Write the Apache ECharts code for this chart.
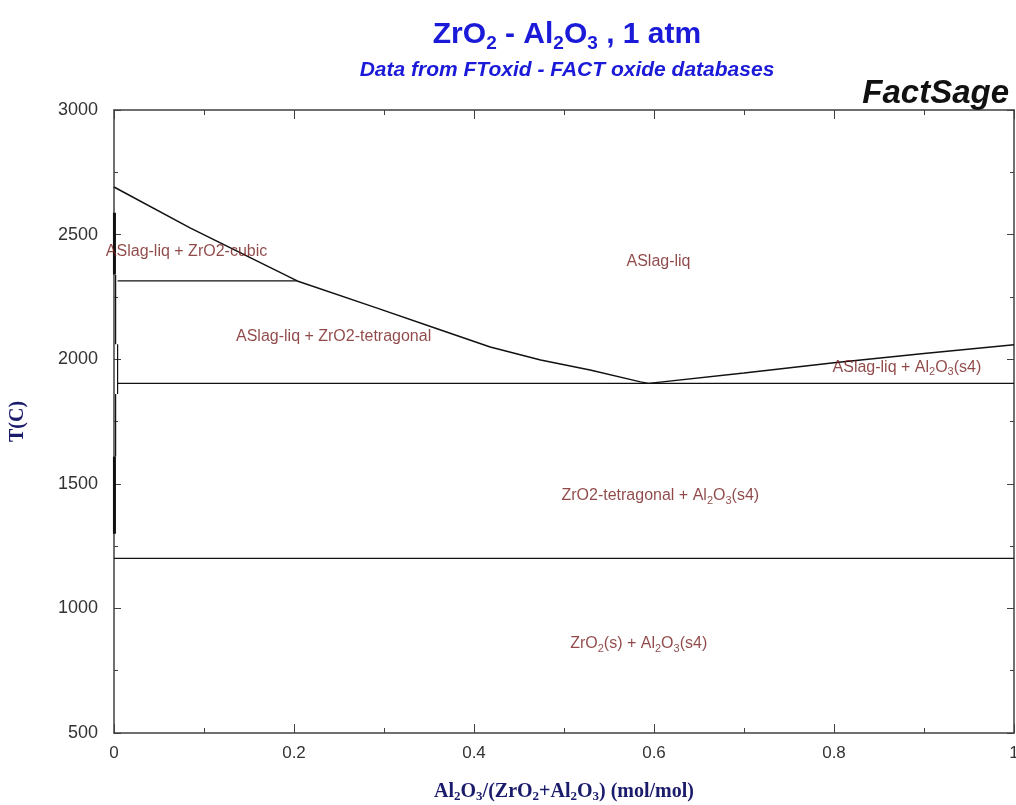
<!DOCTYPE html>
<html>
<head>
<meta charset="utf-8">
<script src="https://cdn.jsdelivr.net/npm/echarts@6/dist/echarts.min.js"></script>
<style>
  html, body { margin: 0; padding: 0; background: #fff; }
  #chart { width: 1016px; height: 805px; }
</style>
</head>
<body>
<div id="chart"></div>
<script>
// phase boundaries, [x Al2O3 mol fraction, T in C]
const liquidusZrO2 = [[0, 2691], [0.085, 2526], [0.2036, 2314], [0.2924, 2205], [0.363, 2117],
  [0.418, 2049], [0.474, 1997], [0.529, 1957], [0.585, 1909], [0.594, 1903]]
const liquidusAl2O3 = [[0.594, 1903], [0.7, 1945], [0.8, 1986], [0.9, 2023], [1, 2058]]
const cubicTetragonal = [[0.004, 2314], [0.2036, 2314]]
const eutectic = [[0.004, 1903], [1, 1903]]
const tetragonalMonoclinic = [[0, 1201], [1, 1201]]
const ssCubic = [[0.0005, 2588], [0.0005, 2340]]
const ssTetragonalA = [[0.0018, 2338], [0.0018, 2060]]
const ssTetragonalB = [[0.004, 2060], [0.004, 1860]]
const ssTetragonalC = [[0.0018, 1860], [0.0018, 1610]]
const ssTetragonalD = [[0.0005, 1610], [0.0005, 1300]]

// region labels
const regionText = [
  'ASlag-liq + ZrO2-cubic',
  'ASlag-liq',
  'ASlag-liq + ZrO2-tetragonal',
  'ASlag-liq + Al{s|2}O{s|3}(s4)',
  'ZrO2-tetragonal + Al{s|2}O{s|3}(s4)',
  'ZrO{s|2}(s) + Al{s|2}O{s|3}(s4)'
]
const regionX = [0.0806, 0.605, 0.244, 0.881, 0.607, 0.583]
const regionT = [2430, 2390, 2089, 1965, 1451, 857]

const axisCol = '#404040'
const labelCol = '#741c1c'
const titleCol = '#1a1ad8'
const titleCenter = 562

const lineSeries = (data, width) => ({
  type: 'line',
  data: data,
  symbol: 'none',
  silent: true,
  lineStyle: { color: '#111', width: width || 1.5 },
  z: 3
})

let chart = echarts.init(document.getElementById('chart'), null, { renderer: 'canvas' })

chart.setOption({
  animation: false,
  backgroundColor: '#fff',
  title: [
    {
      text: '{b|ZrO}{s|2}{b| - Al}{s|2}{b|O}{s|3}{b| , 1 atm}',
      left: titleCenter, top: 12, textAlign: 'center',
      textStyle: {
        rich: {
          b: { fontFamily: 'Liberation Sans', fontWeight: 'bold', fontSize: 30, color: titleCol, lineHeight: 36 },
          s: { fontFamily: 'Liberation Sans', fontWeight: 'bold', fontSize: 19, color: titleCol, lineHeight: 22, verticalAlign: 'bottom' }
        }
      }
    },
    {
      text: 'Data from FToxid - FACT oxide databases',
      left: titleCenter, top: 55, textAlign: 'center',
      textStyle: { fontFamily: 'Liberation Sans', fontWeight: 'bold', fontStyle: 'italic', fontSize: 21, color: titleCol }
    },
    {
      text: 'FactSage',
      right: 2, top: 72,
      textStyle: { fontFamily: 'Liberation Sans', fontWeight: 'bold', fontStyle: 'italic', fontSize: 33, color: '#111' }
    }
  ],
  grid: { left: 114, right: 2, top: 110, bottom: 72, containLabel: false, outerBoundsMode: 'none' },
  xAxis: [
    {
      type: 'value', min: 0, max: 1, interval: 0.2,
      name: '{t|Al}{s|2}{t|O}{s|3}{t|/(ZrO}{s|2}{t|+Al}{s|2}{t|O}{s|3}{t|) (mol/mol)}',
      nameLocation: 'middle', nameGap: 48,
      nameTextStyle: {
        rich: {
          t: { fontFamily: 'Liberation Serif', fontWeight: 'bold', fontSize: 20, color: '#1b1b6b', lineHeight: 22 },
          s: { fontFamily: 'Liberation Serif', fontWeight: 'bold', fontSize: 13, color: '#1b1b6b', lineHeight: 12, verticalAlign: 'bottom' }
        }
      },
      axisLine: { lineStyle: { color: axisCol, width: 1.5 } },
      axisTick: { inside: true, length: 9, lineStyle: { color: axisCol } },
      minorTick: { show: true, splitNumber: 2, length: 5, lineStyle: { color: axisCol } },
      axisLabel: { fontFamily: 'Liberation Sans', fontSize: 17, color: '#333', margin: 12 },
      splitLine: { show: false }
    },
    {
      type: 'value', min: 0, max: 1, interval: 0.2, position: 'top',
      axisLine: { onZero: false, lineStyle: { color: axisCol, width: 1.5 } },
      axisTick: { inside: true, length: 9, lineStyle: { color: axisCol } },
      minorTick: { show: true, splitNumber: 2, length: 5, lineStyle: { color: axisCol } },
      axisLabel: { show: false },
      splitLine: { show: false }
    }
  ],
  yAxis: [
    {
      type: 'value', min: 500, max: 3000, interval: 500,
      name: 'T(C)', nameLocation: 'middle', nameGap: 86,
      nameTextStyle: { fontFamily: 'Liberation Serif', fontWeight: 'bold', fontSize: 20, color: '#1b1b6b' },
      axisLine: { show: true, lineStyle: { color: axisCol, width: 1.5 } },
      axisTick: { show: true, inside: true, length: 7, lineStyle: { color: axisCol } },
      minorTick: { show: true, splitNumber: 2, length: 4, lineStyle: { color: axisCol } },
      axisLabel: { fontFamily: 'Liberation Sans', fontSize: 18, color: '#333', margin: 16, formatter: v => String(v) },
      splitLine: { show: false }
    },
    {
      type: 'value', min: 500, max: 3000, interval: 500, position: 'right',
      axisLine: { show: true, onZero: false, lineStyle: { color: axisCol, width: 1.5 } },
      axisTick: { show: true, inside: true, length: 7, lineStyle: { color: axisCol } },
      minorTick: { show: true, splitNumber: 2, length: 4, lineStyle: { color: axisCol } },
      axisLabel: { show: false },
      splitLine: { show: false }
    }
  ],
  series: [
    lineSeries(liquidusZrO2),
    lineSeries(liquidusAl2O3),
    lineSeries(cubicTetragonal, 1.3),
    lineSeries(eutectic, 1.3),
    lineSeries(tetragonalMonoclinic, 1.3),
    lineSeries(ssCubic, 3),
    lineSeries(ssTetragonalA, 1.2),
    lineSeries(ssTetragonalB, 1.2),
    lineSeries(ssTetragonalC, 1.2),
    lineSeries(ssTetragonalD, 3),
    {
      type: 'scatter',
      symbolSize: 0,
      silent: true,
      z: 5,
      data: regionText.map((t, i) => ({ value: [regionX[i], regionT[i]], text: t })),
      label: {
        show: true,
        position: 'inside',
        formatter: p => p.data.text,
        fontFamily: 'Liberation Sans',
        fontSize: 16,
        lineHeight: 20,
        color: labelCol,
        rich: { s: { color: labelCol, fontFamily: 'Liberation Sans', fontSize: 11, lineHeight: 10, verticalAlign: 'bottom' } }
      }
    }
  ]
})
</script>
</body>
</html>
